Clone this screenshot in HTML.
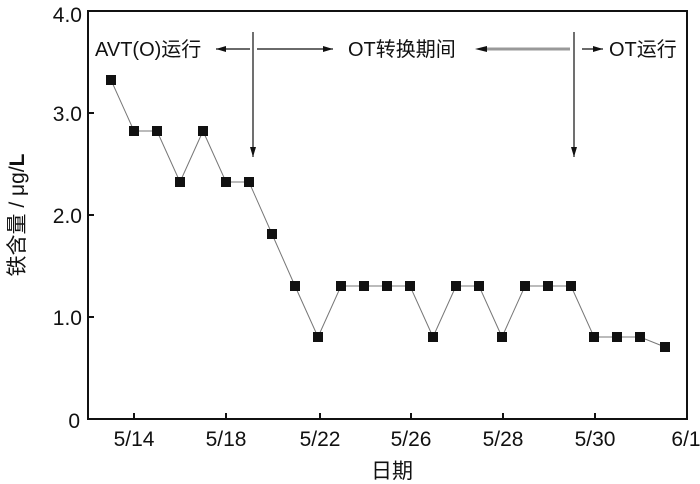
<!DOCTYPE html>
<html><head><meta charset="utf-8"><style>
html,body{margin:0;padding:0;background:#fff;}
svg{display:block}
text{font-family:"Liberation Sans","Noto Sans CJK SC",sans-serif;fill:#111}
</style></head><body>
<svg width="700" height="484" viewBox="0 0 700 484" xmlns="http://www.w3.org/2000/svg">
<defs>
<marker id="ah" markerWidth="10" markerHeight="6" refX="10" refY="3" orient="auto" markerUnits="userSpaceOnUse"><path d="M0,0 L10,3 L0,6 z" fill="#111"/></marker>
</defs>
<rect x="88" y="11" width="599" height="408" fill="none" stroke="#111" stroke-width="2"/>
<g stroke="#111" stroke-width="2">
<line x1="88" y1="113" x2="94" y2="113"/><line x1="88" y1="215" x2="94" y2="215"/><line x1="88" y1="317" x2="94" y2="317"/>
<line x1="134" y1="419" x2="134" y2="413"/><line x1="226" y1="419" x2="226" y2="413"/><line x1="320" y1="419" x2="320" y2="413"/><line x1="411" y1="419" x2="411" y2="413"/><line x1="503" y1="419" x2="503" y2="413"/><line x1="595" y1="419" x2="595" y2="413"/>
</g>
<g font-size="21" text-anchor="end">
<text x="82" y="22">4.0</text><text x="82" y="121">3.0</text><text x="82" y="223">2.0</text><text x="82" y="325">1.0</text><text x="80" y="428">0</text>
</g>
<g font-size="21" text-anchor="middle">
<text x="134" y="446">5/14</text><text x="226" y="446">5/18</text><text x="320" y="446">5/22</text><text x="411" y="446">5/26</text><text x="503" y="446">5/28</text><text x="595" y="446">5/30</text><text x="686" y="446">6/1</text>
<text x="392" y="478">日期</text>
</g>
<text font-size="21" text-anchor="middle" transform="translate(24,215) rotate(-90)">铁含量 / μg/<tspan font-weight="bold">L</tspan></text>
<polyline fill="none" stroke="#777" stroke-width="1" points="111,80 134,131 157,131 180,182 203,131 226,182 249,182 272,234 295,286 318,337 341,286 364,286 387,286 410,286 433,337 456,286 479,286 502,337 525,286 548,286 571,286 594,337 617,337 640,337 665,347"/>
<g fill="#111">
<rect x="106" y="75" width="10" height="10"/><rect x="129" y="126" width="10" height="10"/><rect x="152" y="126" width="10" height="10"/><rect x="175" y="177" width="10" height="10"/><rect x="198" y="126" width="10" height="10"/><rect x="221" y="177" width="10" height="10"/><rect x="244" y="177" width="10" height="10"/><rect x="267" y="229" width="10" height="10"/><rect x="290" y="281" width="10" height="10"/><rect x="313" y="332" width="10" height="10"/><rect x="336" y="281" width="10" height="10"/><rect x="359" y="281" width="10" height="10"/><rect x="382" y="281" width="10" height="10"/><rect x="405" y="281" width="10" height="10"/><rect x="428" y="332" width="10" height="10"/><rect x="451" y="281" width="10" height="10"/><rect x="474" y="281" width="10" height="10"/><rect x="497" y="332" width="10" height="10"/><rect x="520" y="281" width="10" height="10"/><rect x="543" y="281" width="10" height="10"/><rect x="566" y="281" width="10" height="10"/><rect x="589" y="332" width="10" height="10"/><rect x="612" y="332" width="10" height="10"/><rect x="635" y="332" width="10" height="10"/><rect x="660" y="342" width="10" height="10"/>
</g>
<g stroke="#111" stroke-width="1.2">
<line x1="253" y1="32" x2="253" y2="157" marker-end="url(#ah)"/>
<line x1="574" y1="32" x2="574" y2="157" marker-end="url(#ah)"/>
<line x1="250" y1="49" x2="216" y2="49" marker-end="url(#ah)"/>
<line x1="257" y1="49" x2="333" y2="49" marker-end="url(#ah)"/>
<line x1="582" y1="49" x2="603" y2="49" marker-end="url(#ah)"/>
</g>
<line x1="570" y1="49" x2="485" y2="49" stroke="#999" stroke-width="3"/>
<path d="M475,49 L487,46 L487,52 z" fill="#111"/>
<g font-size="20">
<text x="95" y="56">AVT(O)运行</text>
<text x="348" y="56">OT转换期间</text>
<text x="609" y="56">OT运行</text>
</g>
</svg>
</body></html>
